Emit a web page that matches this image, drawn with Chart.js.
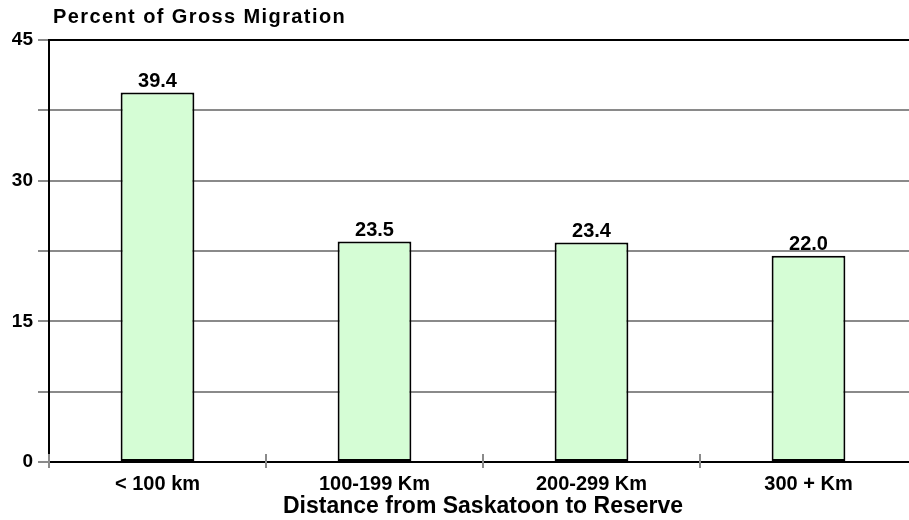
<!DOCTYPE html>
<html>
<head>
<meta charset="utf-8">
<script src="https://cdn.jsdelivr.net/npm/chart.js@4/dist/chart.umd.min.js"></script>
<style>
  html, body { margin: 0; padding: 0; background: #fff; overflow: hidden; }
  #wrap { width: 920px; height: 520px; }
</style>
</head>
<body>
<div id="wrap"><canvas id="c" width="920" height="520"></canvas></div>
<script>
// Share of gross migration by distance band
const categories = ['< 100 km', '100-199 Km', '200-299 Km', '300 + Km'];
const percentValues = [39.4, 23.5, 23.4, 22.0];
const yTickLabels = [0, 15, 30, 45];

const FONT = '"Liberation Sans", Arial, sans-serif';
const GRID_GRAY = '#8a8a8a';
const Y_TITLE = 'Percent of Gross Migration';

// Value labels over each bar
const valueLabels = {
  id: 'valueLabels',
  afterDatasetsDraw(chart) {
    const { ctx } = chart;
    const meta = chart.getDatasetMeta(0);
    ctx.save();
    ctx.font = 'bold 20px ' + FONT;
    ctx.fillStyle = '#000';
    ctx.textAlign = 'center';
    ctx.textBaseline = 'alphabetic';
    meta.data.forEach((bar, i) => {
      ctx.fillText(percentValues[i].toFixed(1), bar.x, bar.y - 6);
    });
    ctx.restore();
  }
};

// Vertical-axis caption written horizontally above the plot
const axisCaption = {
  id: 'axisCaption',
  afterDraw(chart) {
    const { ctx } = chart;
    ctx.save();
    ctx.font = 'bold 20px ' + FONT;
    ctx.letterSpacing = '1.4px';
    ctx.fillStyle = '#000';
    ctx.textAlign = 'left';
    ctx.textBaseline = 'middle';
    ctx.fillText(Y_TITLE, 53, 17);
    ctx.restore();
  }
};

// Small marks crossing the x axis at category boundaries
const crossTicks = {
  id: 'crossTicks',
  afterDraw(chart) {
    const { ctx, chartArea } = chart;
    const xs = chart.scales.x;
    ctx.save();
    ctx.strokeStyle = GRID_GRAY;
    ctx.lineWidth = 2;
    for (let i = 0; i < categories.length; i++) {
      const px = i === 0 ? chartArea.left : xs.getPixelForValue(i - 0.5);
      ctx.beginPath();
      ctx.moveTo(Math.round(px), chartArea.bottom - 8);
      ctx.lineTo(Math.round(px), chartArea.bottom + 6);
      ctx.stroke();
    }
    ctx.restore();
  }
};

new Chart(document.getElementById('c'), {
  type: 'bar',
  data: {
    labels: categories,
    datasets: [{
      data: percentValues,
      backgroundColor: '#d5fdd5',
      borderColor: '#000',
      borderWidth: 2,
      borderSkipped: false,
      barPercentage: 0.34,
      categoryPercentage: 1.0
    }]
  },
  options: {
    responsive: false,
    animation: false,
    layout: { padding: { left: 0, right: 3, top: 40, bottom: 0 } },
    plugins: {
      legend: { display: false },
      tooltip: { enabled: false },
      title: { display: false }
    },
    scales: {
      x: {
        offset: true,
        grid: { display: false, drawTicks: false },
        border: { display: true, color: '#000', width: 2 },
        ticks: {
          color: '#000',
          padding: 10,
          font: { family: FONT, size: 20, weight: 'bold' }
        },
        title: {
          display: true,
          text: 'Distance from Saskatoon to Reserve',
          color: '#000',
          font: { family: FONT, size: 23, weight: 'bold' },
          padding: { top: 0, bottom: 0 }
        },
        afterFit(scale) { scale.height = 58; }
      },
      y: {
        min: 0,
        max: 45,
        afterBuildTicks(scale) {
          const t = [];
          for (let i = 0; i <= 6; i++) t.push({ value: i * 7.5 });
          scale.ticks = t;
        },
        grid: {
          color: (c) => (c.tick && c.tick.value === 45 ? '#000' : GRID_GRAY),
          tickColor: GRID_GRAY,
          lineWidth: 2,
          tickLength: 11
        },
        border: { display: true, color: '#000', width: 2 },
        ticks: {
          color: '#000',
          padding: 5,
          font: { family: FONT, size: 19, weight: 'bold' },
          callback: (v) => (yTickLabels.includes(v) ? String(v) : '')
        },
        afterFit(scale) { scale.width = 49; }
      }
    }
  },
  plugins: [valueLabels, axisCaption, crossTicks]
});
</script>
</body>
</html>
